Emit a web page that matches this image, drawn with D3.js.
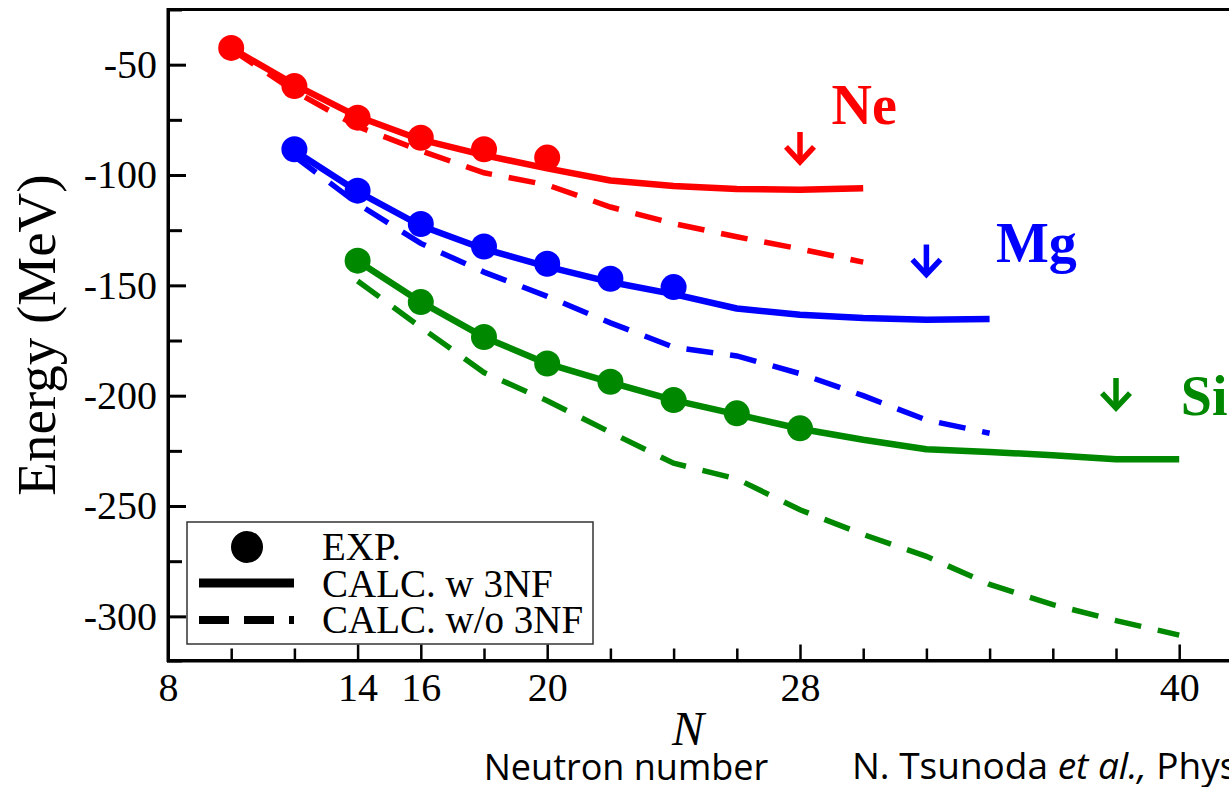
<!DOCTYPE html>
<html>
<head>
<meta charset="utf-8">
<script src="https://cdn.jsdelivr.net/npm/d3@7"></script>
<style>
  html, body { margin: 0; padding: 0; background: #ffffff; }
  svg { display: block; }
</style>
</head>
<body>
<svg id="chart" width="1229" height="787"></svg>
<script>
// Neutron numbers for each isotope chain
const neN = [10, 12, 14, 16, 18, 20, 22, 24, 26, 28, 30];
const mgN = [12, 14, 16, 18, 20, 22, 24, 26, 28, 30, 32, 34];
const siN = [14, 16, 18, 20, 22, 24, 26, 28, 30, 32, 34, 36, 38, 40];

// Experimental ground-state energies (MeV)
const neExpN = [10, 12, 14, 16, 18, 20];
const neExp = [-42.4, -59.7, -74.0, -83.1, -88.3, -92.1];
const mgExpN = [12, 14, 16, 18, 20, 22, 24];
const mgExp = [-88.3, -107.1, -122.2, -132.4, -140.2, -147.0, -150.8];
const siExpN = [14, 16, 18, 20, 22, 24, 26, 28];
const siExp = [-138.8, -157.6, -173.4, -185.4, -193.7, -202.0, -208.0, -214.8];

// Calculations with three-nucleon forces
const neW3NF = [-42.5, -59, -73.5, -84, -91, -97, -102.5, -105, -106.3, -106.7, -106];
const mgW3NF = [-89, -107.5, -123, -133.5, -141.5, -148.5, -154, -160.5, -163.3, -164.8, -165.6, -165.3];
const siW3NF = [-139, -157.5, -173.5, -185.5, -194, -202, -208.5, -215, -220, -224.3, -225.5, -227, -228.8, -228.8];

// Calculations without three-nucleon forces
const neWo3NF = [-43, -62, -78, -89, -99, -104.5, -114.5, -122, -128, -133.5, -139.5];
const mgWo3NF = [-91.5, -113, -131, -144, -155, -167, -178, -182, -190, -200, -211, -217];
const siWo3NF = [-148, -169, -189.5, -202.3, -216.6, -230.6, -237.7, -251.7, -262.9, -272.8, -285.5, -294.7, -301.9, -308.5];

// Drip-line arrows (neutron number, arrow tip energy) and element labels
const elements = ["Ne", "Mg", "Si"];
const colors = ["#ff0000", "#0000ff", "#008800"];
const arrowN = [28, 32, 38];
const arrowTip = [-95, -146, -206.5];
const labelN = [29.0, 34.2, 40.05];
const labelE = [-76.7, -139.5, -208.8];

// Axis ticks
const xTicks = [8, 10, 12, 14, 16, 18, 20, 22, 24, 26, 28, 30, 32, 34, 36, 38, 40, 42];
const xTickLabels = [8, 14, 16, 20, 28, 40];
const yTicks = [-300, -275, -250, -225, -200, -175, -150, -125, -100, -75, -50];
const yTickLabels = [-300, -250, -200, -150, -100, -50];

const legendLabels = ["EXP.", "CALC. w 3NF", "CALC. w/o 3NF"];

const svg = d3.select("#chart");
const serif = "'Liberation Serif', 'Times New Roman', serif";

const x = d3.scaleLinear().domain([8, 42]).range([168, 1242.4]);
const y = d3.scaleLinear().domain([-320, -25]).range([660.5, 9.5]);

svg.append("rect").attr("width", 1229).attr("height", 787).attr("fill", "#fff");

// Frame
svg.append("rect")
  .attr("x", x(8)).attr("y", y(-25))
  .attr("width", x(42) - x(8)).attr("height", y(-320) - y(-25))
  .attr("fill", "none").attr("stroke", "#000").attr("stroke-width", 3);

// X axis (ticks point inward)
const gx = svg.append("g")
  .attr("transform", `translate(0,${y(-320)})`)
  .call(d3.axisBottom(x).tickValues(xTicks).tickSizeOuter(0).tickSize(-12).tickPadding(12)
    .tickFormat(d => xTickLabels.includes(d) ? d : ""));
gx.select(".domain").attr("stroke-width", 3);
gx.selectAll(".tick line").attr("stroke-width", 2.5)
  .attr("y2", d => xTickLabels.includes(d) ? -16 : -12);
gx.selectAll(".tick text").attr("font-family", serif).attr("font-size", 40).attr("fill", "#000");

// Y axis (ticks point inward)
const gy = svg.append("g")
  .attr("transform", `translate(${x(8)},0)`)
  .call(d3.axisLeft(y).tickValues(yTicks).tickSizeOuter(0).tickSize(-14).tickPadding(11)
    .tickFormat(d => yTickLabels.includes(d) ? d : ""));
gy.select(".domain").attr("stroke-width", 3);
gy.selectAll(".tick line").attr("stroke-width", 3)
  .attr("x2", d => yTickLabels.includes(d) ? 18 : 14);
gy.selectAll(".tick text").attr("font-family", serif).attr("font-size", 40).attr("fill", "#000");

const line = d3.line().x(d => x(d[0])).y(d => y(d[1]));
const zipped = (ns, vs) => ns.map((n, i) => [n, vs[i]]);

const chains = [
  { n: neN, w: neW3NF, wo: neWo3NF, en: neExpN, e: neExp },
  { n: mgN, w: mgW3NF, wo: mgWo3NF, en: mgExpN, e: mgExp },
  { n: siN, w: siW3NF, wo: siWo3NF, en: siExpN, e: siExp }
];

const plot = svg.append("g");

// Dashed curves first, then solid ones, then data points
chains.forEach((c, i) => {
  plot.append("path").datum(zipped(c.n, c.wo))
    .attr("d", line).attr("fill", "none").attr("stroke", colors[i])
    .attr("stroke-width", 5.5).attr("stroke-dasharray", "27,17");
});
chains.forEach((c, i) => {
  plot.append("path").datum(zipped(c.n, c.w))
    .attr("d", line).attr("fill", "none").attr("stroke", colors[i])
    .attr("stroke-width", 6.5).attr("stroke-linejoin", "round");
});
chains.forEach((c, i) => {
  plot.selectAll(null).data(zipped(c.en, c.e)).enter().append("circle")
    .attr("cx", d => x(d[0])).attr("cy", d => y(d[1])).attr("r", 13)
    .attr("fill", colors[i]);
});

// Drip-line arrows
elements.forEach((el, i) => {
  const ax = x(arrowN[i]), ay = y(arrowTip[i]);
  const g = plot.append("g").attr("fill", "none").attr("stroke", colors[i])
    .attr("stroke-width", 5.5);
  g.append("line").attr("x1", ax).attr("x2", ax).attr("y1", ay - 32).attr("y2", ay - 2);
  g.append("polyline").attr("points", `${ax - 14},${ay - 17} ${ax},${ay - 2} ${ax + 14},${ay - 17}`)
    .attr("stroke-linejoin", "miter");
  plot.append("text").attr("x", x(labelN[i])).attr("y", y(labelE[i]))
    .attr("font-family", serif).attr("font-weight", "bold").attr("font-size", 56)
    .attr("fill", colors[i]).text(el);
});

// Legend
const lg = svg.append("g");
lg.append("rect").attr("x", 187).attr("y", 522).attr("width", 406).attr("height", 122)
  .attr("fill", "#fff").attr("stroke", "#333").attr("stroke-width", 1.5);
lg.append("circle").attr("cx", 247).attr("cy", 547).attr("r", 16).attr("fill", "#000");
lg.append("line").attr("x1", 199).attr("x2", 294).attr("y1", 583).attr("y2", 583)
  .attr("stroke", "#000").attr("stroke-width", 9);
lg.append("line").attr("x1", 199).attr("x2", 294).attr("y1", 620).attr("y2", 620)
  .attr("stroke", "#000").attr("stroke-width", 8).attr("stroke-dasharray", "30,15");
lg.selectAll(null).data(legendLabels).enter().append("text")
  .attr("x", 322).attr("y", (d, i) => 560 + i * 36.5)
  .attr("font-family", serif).attr("font-size", 39).attr("fill", "#000").text(d => d);

// Axis titles
svg.append("text")
  .attr("transform", `translate(55,${335}) rotate(-90)`)
  .attr("text-anchor", "middle")
  .attr("font-family", serif).attr("font-size", 55).attr("fill", "#000")
  .text("Energy (MeV)");
svg.append("text").attr("x", 688).attr("y", 745).attr("text-anchor", "middle")
  .attr("font-family", serif).attr("font-style", "italic").attr("font-size", 48)
  .attr("fill", "#000").text("N");

const sans = "'Open Sans', 'Noto Sans', sans-serif";
svg.append("text").attr("x", 626).attr("y", 780).attr("text-anchor", "middle")
  .attr("font-family", sans).attr("font-size", 36).attr("fill", "#000")
  .text("Neutron number");
const cite = svg.append("text").attr("x", 852).attr("y", 779)
  .attr("font-family", sans).attr("font-size", 37).attr("fill", "#000");
cite.append("tspan").text("N. Tsunoda ");
cite.append("tspan").attr("font-style", "italic").text("et al.,");
cite.append("tspan").text(" Phys. Rev. C 95, 021304(R) (2017)");
</script>
</body>
</html>
